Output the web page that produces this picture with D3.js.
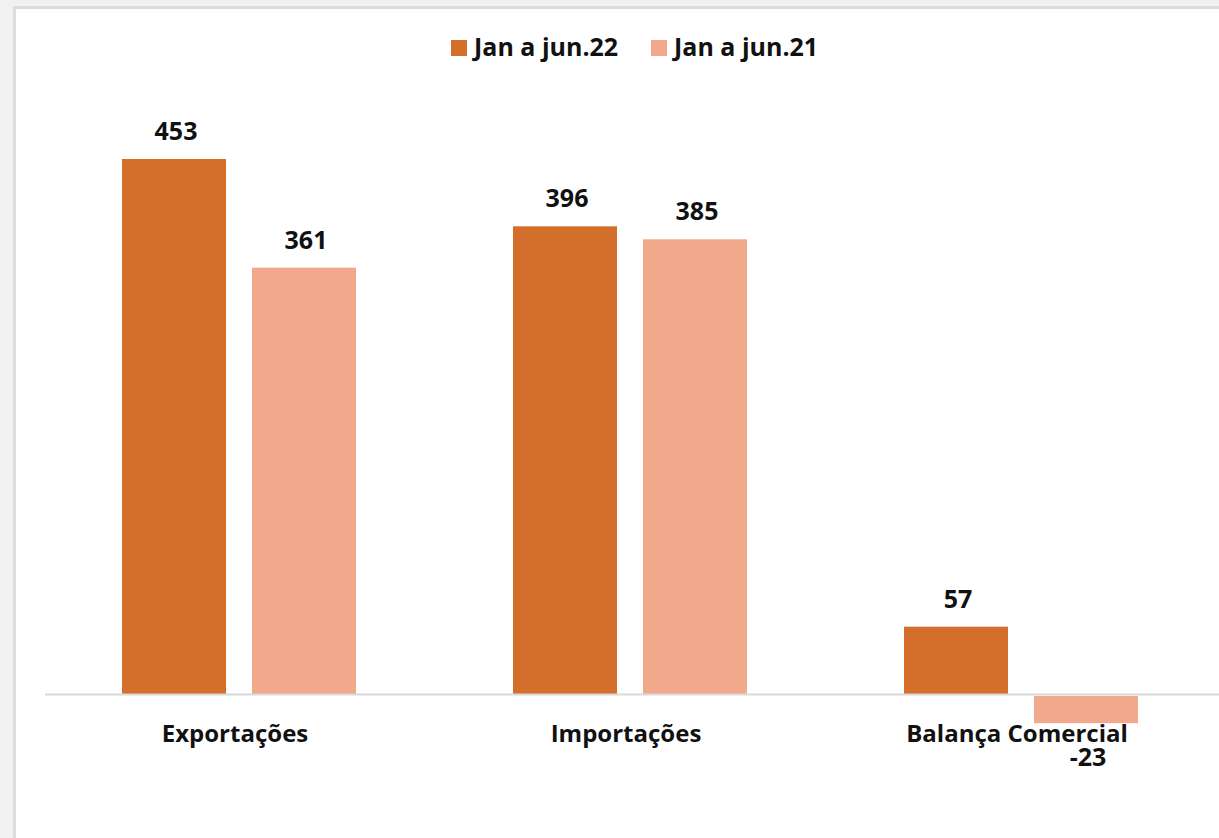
<!DOCTYPE html>
<html lang="pt">
<head>
    <meta charset="UTF-8">
    <title>Balança Comercial</title>
    <style>
        body {
            margin: 0;
            padding: 0;
            background: #f1f1f3;
            font-family: "Open Sans", "Noto Sans", sans-serif;
        }
        svg {
            display: block;
        }
        .lbl {
            font-weight: bold;
            fill: #111;
        }
    </style>
</head>
<body>
    <div id="chart"></div>

    <script src="https://d3js.org/d3.v7.min.js"></script>
    <script>
        // Dados (bilhões)
        const categories = ["Exportações", "Importações", "Balança Comercial"];
        const seriesNames = ["Jan a jun.22", "Jan a jun.21"];
        const values22 = [453, 396, 57];
        const values21 = [361, 385, -23];
        const colors = ["#D46F2B", "#F2A88B"];

        const data = categories.map((c, i) => ({
            category: c,
            vals: [
                { serie: seriesNames[0], value: values22[i] },
                { serie: seriesNames[1], value: values21[i] }
            ]
        }));

        const width = 1219, height = 838;

        const svg = d3.select("#chart")
            .append("svg")
            .attr("width", width)
            .attr("height", height);

        // painel branco com borda
        svg.append("rect")
            .attr("x", 14.5)
            .attr("y", 7.5)
            .attr("width", 1300)
            .attr("height", 1000)
            .attr("fill", "#fff")
            .attr("stroke", "#dcdcdc")
            .attr("stroke-width", 3);

        const x0 = d3.scaleBand()
            .domain(categories)
            .range([43.5, 1216.5]);

        const x1 = d3.scaleBand()
            .domain(seriesNames)
            .range([78.5, 312.5])
            .paddingInner(0.2);

        const y = d3.scaleLinear()
            .domain([0, 453])
            .range([694, 159]);

        const color = d3.scaleOrdinal()
            .domain(seriesNames)
            .range(colors);

        const groups = svg.selectAll(".grp")
            .data(data)
            .enter()
            .append("g")
            .attr("class", "grp")
            .attr("transform", d => `translate(${x0(d.category)},0)`);

        groups.selectAll("rect")
            .data(d => d.vals)
            .enter()
            .append("rect")
            .attr("x", d => x1(d.serie))
            .attr("width", x1.bandwidth())
            .attr("y", d => d.value >= 0 ? y(d.value) : y(0) + 2)
            .attr("height", d => d.value >= 0 ? y(0) - y(d.value) : y(d.value) - y(0))
            .attr("fill", d => color(d.serie));

        groups.selectAll(".val")
            .data(d => d.vals)
            .enter()
            .append("text")
            .attr("class", "lbl val")
            .attr("x", d => x1(d.serie) + x1.bandwidth() / 2 + 2)
            .attr("y", d => d.value >= 0 ? y(d.value) - 19 : y(d.value) + 45)
            .attr("text-anchor", "middle")
            .style("font-size", "25px")
            .text(d => d.value);

        // eixo horizontal
        svg.append("line")
            .attr("x1", 45)
            .attr("x2", 1219)
            .attr("y1", y(0) + 0.5)
            .attr("y2", y(0) + 0.5)
            .attr("stroke", "#d9d9d9")
            .attr("stroke-width", 2);

        svg.selectAll(".cat")
            .data(categories)
            .enter()
            .append("text")
            .attr("class", "lbl cat")
            .attr("x", d => x0(d) + x0.bandwidth() / 2 - 4)
            .attr("y", 742)
            .attr("text-anchor", "middle")
            .style("font-size", "24px")
            .text(d => d);

        // legenda
        const legendX = [451, 651];
        const legend = svg.selectAll(".leg")
            .data(seriesNames)
            .enter()
            .append("g")
            .attr("class", "leg")
            .attr("transform", (d, i) => `translate(${legendX[i]},40)`);

        legend.append("rect")
            .attr("width", 16)
            .attr("height", 16)
            .attr("fill", d => color(d));

        legend.append("text")
            .attr("class", "lbl")
            .attr("x", 23)
            .attr("y", 16)
            .style("font-size", "25px")
            .text(d => d);
    </script>
</body>
</html>
